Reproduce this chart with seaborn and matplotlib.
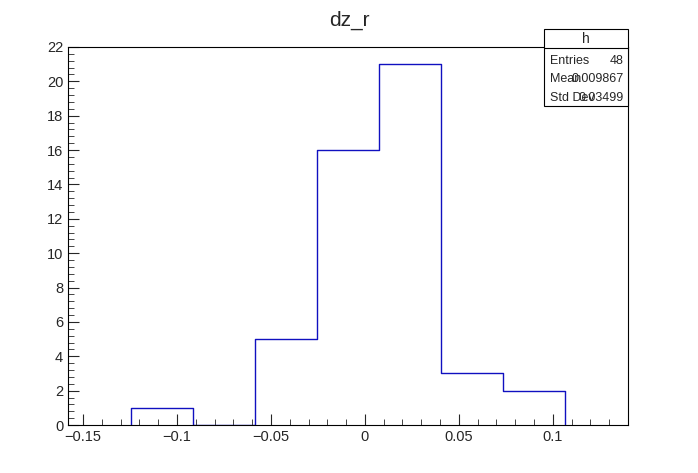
import seaborn as sns
import matplotlib.pyplot as plt
from matplotlib.ticker import MultipleLocator

# histogram contents
bin_edges = [-0.1245, -0.0915, -0.0585, -0.0255, 0.0075, 0.0405, 0.0735, 0.1065]
counts = [1, 0, 5, 16, 21, 3, 2]
centers = [(a + b) / 2 for a, b in zip(bin_edges[:-1], bin_edges[1:])]

sns.set_style("ticks")
plt.rcParams['font.family'] = ['Liberation Sans', 'DejaVu Sans']

fig = plt.figure(figsize=(6.98, 4.73), dpi=100)
ax = fig.add_axes([68 / 698, 1 - 425 / 473, 560 / 698, 378 / 473])

line_col = "#1010c0"
sns.histplot(x=centers, weights=counts, bins=bin_edges, element="step",
             fill=False, color=line_col, linewidth=1.0, ax=ax)
# close the outer edges down to zero, as ROOT does
ax.vlines([bin_edges[0], bin_edges[-1]], 0, [counts[0], counts[-1]],
          color=line_col, linewidth=1.0)

ax.set_xlim(-0.158, 0.140)
ax.set_ylim(0, 22)
ax.xaxis.set_major_locator(MultipleLocator(0.05))
ax.xaxis.set_minor_locator(MultipleLocator(0.01))
ax.yaxis.set_major_locator(MultipleLocator(2))
ax.yaxis.set_minor_locator(MultipleLocator(0.4))
ax.tick_params(which="both", direction="in", top=False, right=False, labelsize=10.5)
ax.tick_params(which="major", length=8)
ax.tick_params(which="minor", length=4)
ax.set_xticklabels([f"{v:g}".replace("-", "\u2212") for v in ax.get_xticks()])
ax.set_xlabel("")
ax.set_ylabel("")
for s in ax.spines.values():
    s.set_linewidth(0.8)
    s.set_color("black")

fig.text(0.5, 1 - 20 / 473, "dz_r", ha="center", va="center", fontsize=15)

# stats box
bx0, by0, bw, bh = 544 / 698, 1 - 106 / 473, 84 / 698, 77 / 473
box = plt.Rectangle((bx0, by0), bw, bh, transform=fig.transFigure,
                    facecolor="white", edgecolor="black", linewidth=0.8, zorder=5)
fig.add_artist(box)
fig.add_artist(plt.Line2D([bx0, bx0 + bw], [1 - 48 / 473] * 2,
                          transform=fig.transFigure, color="black",
                          linewidth=0.8, zorder=6))
fig.text(bx0 + bw / 2, 1 - 39 / 473, "h", ha="center", va="center",
         fontsize=10, zorder=7)
rows = [("Entries", "48"), ("Mean", "0.009867"), ("Std Dev", "0.03499")]
for i, (k, v) in enumerate(rows):
    y = 1 - (61 + 18.5 * i) / 473
    fig.text(bx0 + 6 / 698, y, k, ha="left", va="center", fontsize=9, zorder=7)
    fig.text(bx0 + bw - 4 / 698, y, v, ha="right", va="center", fontsize=9, zorder=7)

fig.savefig("out.png", dpi=100)
